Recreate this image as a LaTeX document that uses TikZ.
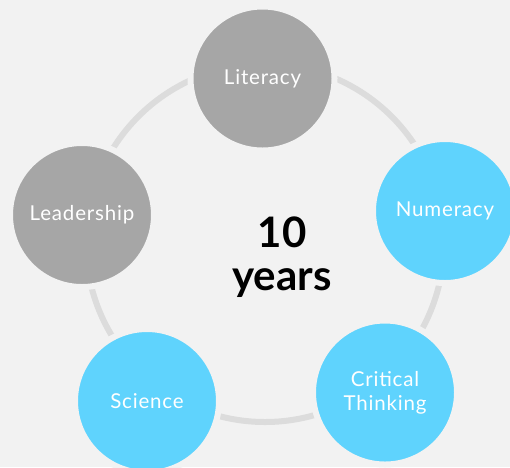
\documentclass[tikz,border=0pt]{standalone}
\usepackage{fontspec}
\setmainfont{Lato}
\newfontfamily\labelfont{Lato}[LetterSpace=4]
\definecolor{bg}{HTML}{F2F2F2}
\definecolor{ringgray}{HTML}{DCDCDC}
\definecolor{skillgray}{HTML}{A6A6A6}
\definecolor{skillblue}{HTML}{5FD3FD}
\begin{document}
\begin{tikzpicture}[x=1pt, y=-1pt,
		skill/.style={circle, draw=bg, line width=6pt, minimum size=144pt, inner sep=0pt,
			text=white, align=center, font=\labelfont\fontsize{20.5}{24}\selectfont},
		done/.style={skill, fill=skillgray},
		todo/.style={skill, fill=skillblue}]
			\clip (0, 0) rectangle (510, 467);
			\fill[bg] (0, 0) rectangle (510, 467);

			\coordinate (hub) at (265, 243);
			\draw[ringgray, line width=6pt] (hub) circle (179pt);

			\node[done] (lit) at (262.5, 78.5) {Literacy};
			\node[todo] (num) at (445, 211) {Numeracy};
			\node[todo] (crit) at (385, 392.5) {Critical\\Thinking};
			\node[todo] (sci) at (147, 401) {Science};
			\node[done] (lead) at (82, 215) {Leadership};

			\node[align=center, font=\bfseries\fontsize{42}{43}\selectfont] (span) at (282, 257) {10\\years};
		\end{tikzpicture}
\end{document}
